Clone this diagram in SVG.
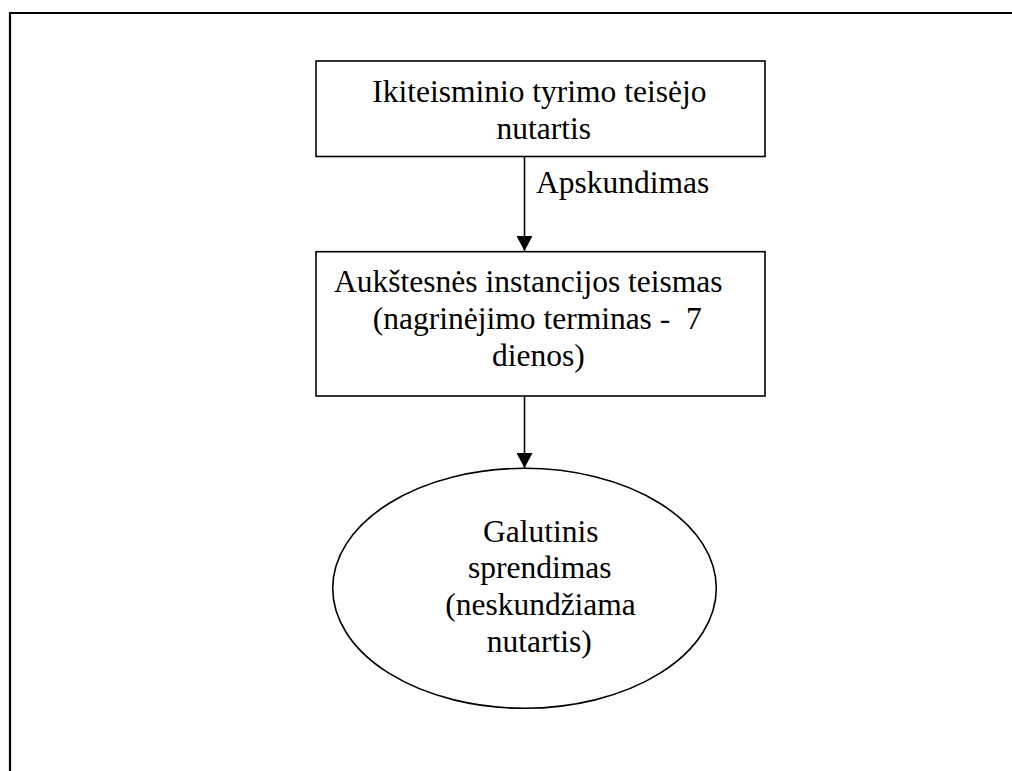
<svg xmlns="http://www.w3.org/2000/svg" width="1012" height="771" viewBox="0 0 1012 771">
<style>
.t{font-family:"Liberation Serif","Times New Roman",serif;font-size:31.5px;fill:#000;white-space:pre}
.m{text-anchor:middle}
.n{fill:#fff;stroke:#000;stroke-width:1.6}
.c{stroke:#000;stroke-width:1.6;fill:none}
</style>
<defs>
<marker id="ah" markerUnits="userSpaceOnUse" markerWidth="16" markerHeight="16" viewBox="0 0 16 16" refX="15" refY="8" orient="auto">
<path d="M0,0 L15,8 L0,16 Z" fill="#000"/>
</marker>
</defs>
<rect width="1012" height="771" fill="#fff"/>
<path d="M10,771 V13 H1012" fill="none" stroke="#000" stroke-width="2.2"/>
<g id="connectors">
<line class="c" x1="524.5" y1="156.5" x2="524.5" y2="251" marker-end="url(#ah)"/>
<text class="t" x="536" y="193">Apskundimas</text>
<line class="c" x1="524.5" y1="396" x2="524.5" y2="468" marker-end="url(#ah)"/>
</g>
<g id="node1">
<rect class="n" x="316" y="61" width="449" height="95.5"/>
<text class="t m" x="539.3" y="101.5">Ikiteisminio tyrimo teisėjo</text>
<text class="t m" x="543.8" y="138.7">nutartis</text>
</g>
<g id="node2">
<rect class="n" x="316" y="251.7" width="449" height="144.3"/>
<text class="t m" x="528.3" y="291.5">Aukštesnės instancijos teismas</text>
<text class="t m" x="537.3" y="328.5" xml:space="preserve">(nagrinėjimo terminas -  7</text>
<text class="t m" x="538.3" y="365.5">dienos)</text>
</g>
<g id="node3">
<ellipse class="n" cx="524.5" cy="588.3" rx="191.8" ry="120"/>
<text class="t m" x="540.8" y="541.7">Galutinis</text>
<text class="t m" x="539.8" y="578.3">sprendimas</text>
<text class="t m" x="540.5" y="615">(neskundžiama</text>
<text class="t m" x="539.2" y="651.7">nutartis)</text>
</g>
</svg>
